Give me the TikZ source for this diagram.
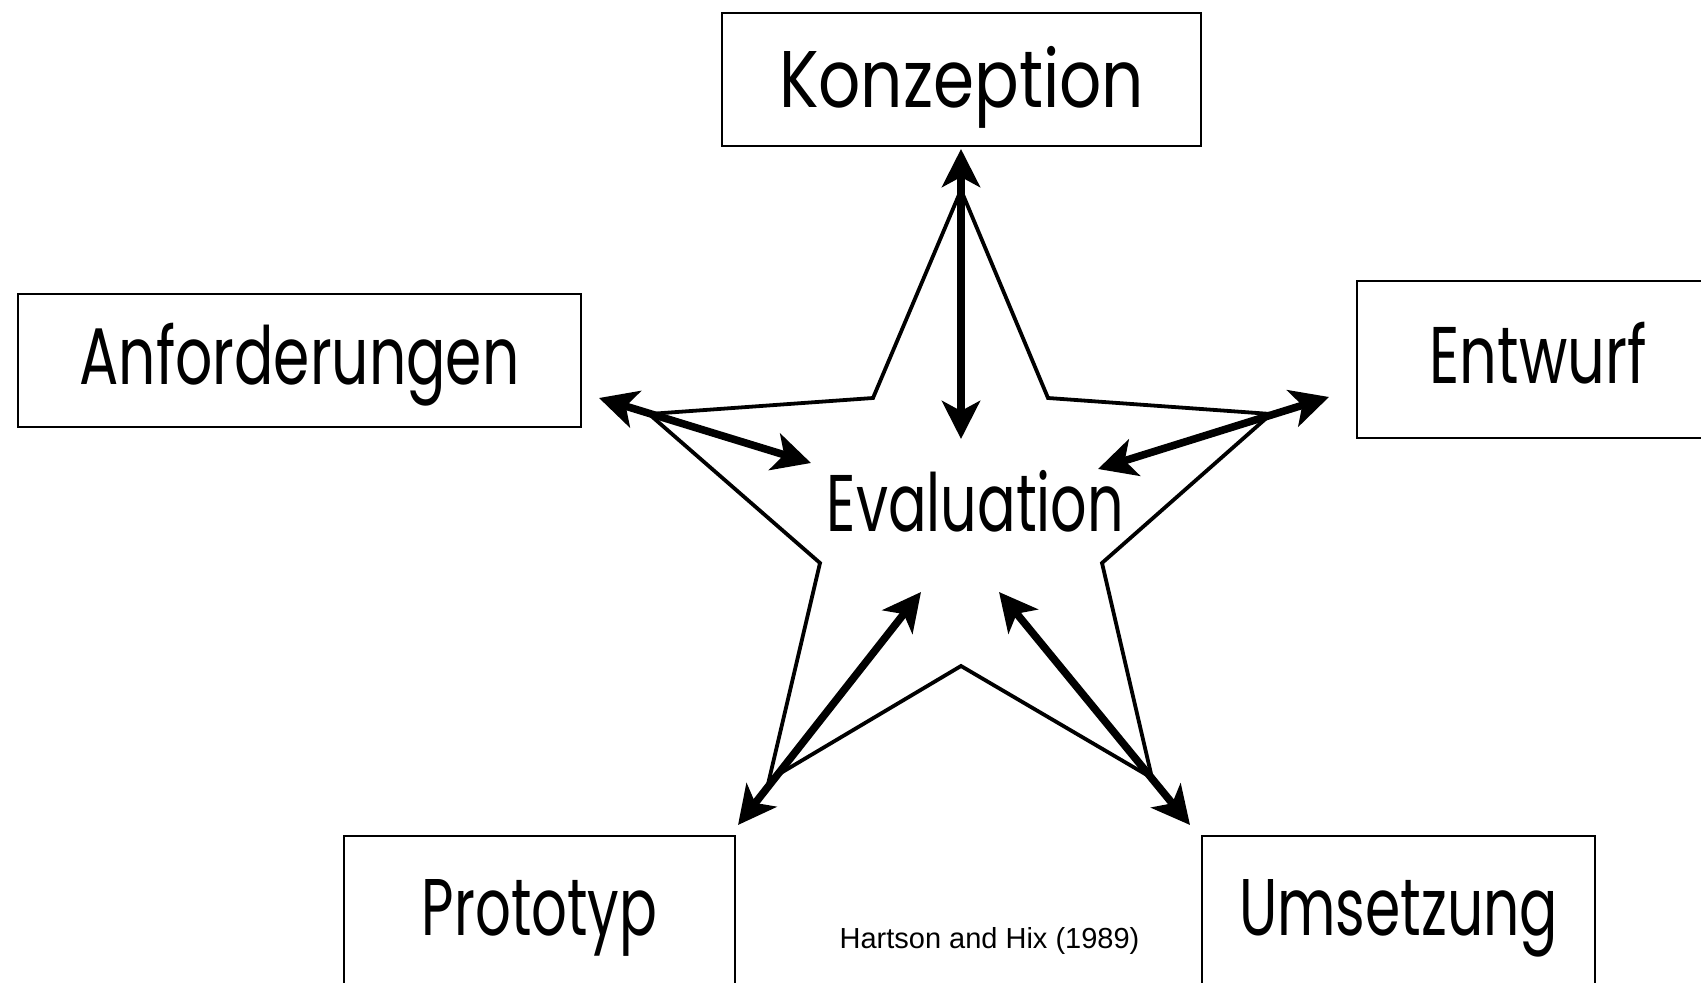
\documentclass[tikz,border=0pt]{standalone}
\usepackage{fontspec}
\usepackage{graphicx}
\setmainfont{Poppins}
\newfontfamily\citefont{Liberation Sans}
\usetikzlibrary{arrows.meta}
% label scaled to a given width, cap height fixed at 28pt
\newcommand{\boxlbl}[2]{\resizebox{#1}{28pt}{\fontsize{34pt}{40pt}\selectfont\setbox0\hbox{H}\raisebox{0pt}[\ht0][0pt]{#2}}}
\tikzset{
  phase/.style={draw=black, line width=1pt, inner sep=0pt, text height=28pt, text depth=0pt, align=center},
  starline/.style={draw=black, line width=1.9pt, line join=miter},
  flow/.style={draw=black, line width=3.8pt, {Stealth[length=19pt,width=19pt,inset=5pt]}-{Stealth[length=19pt,width=19pt,inset=5pt]}},
}
\begin{document}
\begin{tikzpicture}[x=0.5pt,y=-0.5pt]
\useasboundingbox (0,0) rectangle (1701,983);
\clip (0,0) rectangle (1701,983);
\fill[white] (0,0) rectangle (1701,983);

% boxes
\node[phase, minimum width=239.5pt, minimum height=66.5pt] (konz) at (961.5,79.5) {\boxlbl{182.5pt}{Konzeption}};
\node[phase, minimum width=281.5pt, minimum height=66.5pt, text depth=4pt] (anf) at (299.5,360.5) {\boxlbl{220pt}{Anforderungen}};
\node[phase, minimum width=183pt, minimum height=78.5pt, text depth=3.5pt] (ent) at (1540,359.5) {\hspace*{-2pt}\boxlbl{108.5pt}{Entwurf}};
\node[phase, minimum width=195.5pt, minimum height=75pt, text depth=4pt] (proto) at (539.5,911) {\boxlbl{117.7pt}{Prototyp}};
\node[phase, minimum width=196.5pt, minimum height=75pt, text depth=4pt] (ums) at (1398.5,911) {\boxlbl{159.5pt}{Umsetzung}};

% center label
\node[inner sep=0pt, text height=28pt, text depth=0pt] (eval) at (975.5,503) {\boxlbl{148.6pt}{Evaluation}};

% citation
\node[inner sep=0pt, font=\citefont\fontsize{14.5pt}{17pt}\selectfont] (cite) at (989.5,941) {Hartson and Hix (1989)};

% star
\coordinate (sT) at (961,190);
\coordinate (sUR) at (1048,398);
\coordinate (sR) at (1271,414);
\coordinate (sRL) at (1102,563);
\coordinate (sBR) at (1152,778);
\coordinate (sB) at (961,666);
\coordinate (sBL) at (769,780);
\coordinate (sLL) at (820,563);
\coordinate (sL) at (649,414);
\coordinate (sUL) at (873,398);
\draw[starline] (sT) -- (sUR) -- (sR) -- (sRL) -- (sBR) -- (sB) -- (sBL) -- (sLL) -- (sL) -- (sUL) -- cycle;

% arrow ends
\coordinate (aT1) at (961,149);
\coordinate (aT2) at (961,439);
\coordinate (aL1) at (599,398);
\coordinate (aL2) at (811,463);
\coordinate (aR1) at (1329,397);
\coordinate (aR2) at (1098,469);
\coordinate (aBL1) at (738,825);
\coordinate (aBL2) at (921,592);
\coordinate (aBR1) at (1190,825);
\coordinate (aBR2) at (999,592);

\draw[flow] (aT1) -- (aT2);
\draw[flow] (aL1) -- (aL2);
\draw[flow] (aR1) -- (aR2);
\draw[flow] (aBL1) -- (aBL2);
\draw[flow] (aBR1) -- (aBR2);
\end{tikzpicture}
\end{document}
